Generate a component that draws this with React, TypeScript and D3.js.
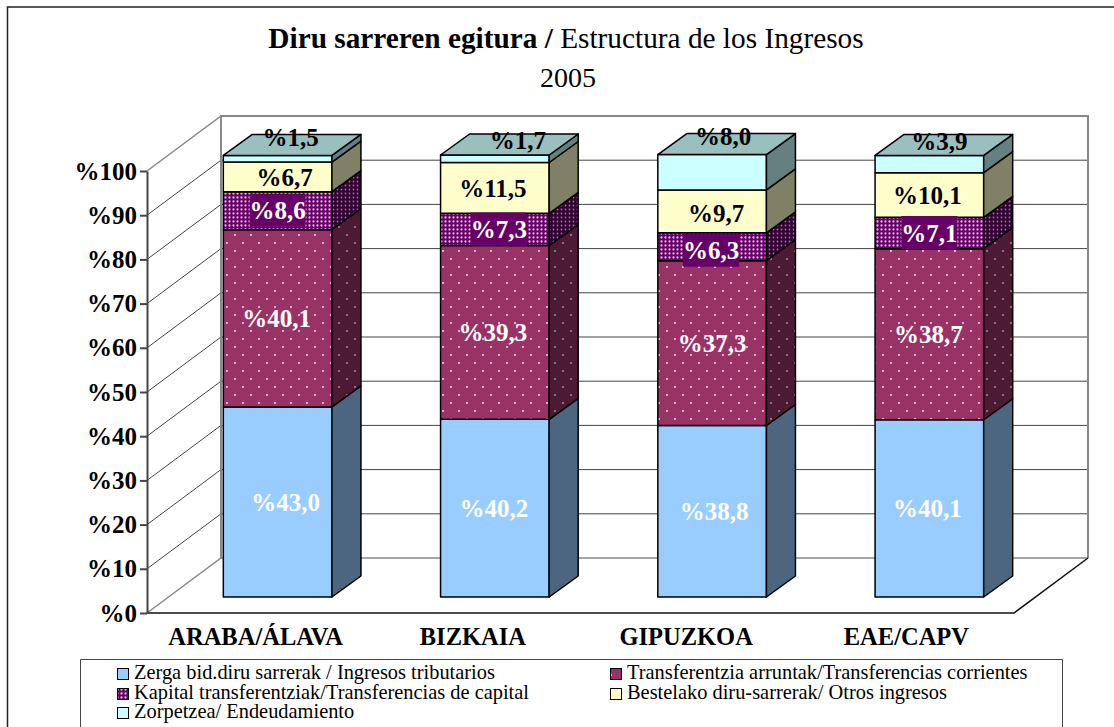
import * as d3 from 'd3';
import { useRef, useEffect } from 'react';

const categories = ['ARABA/ÁLAVA', 'BIZKAIA', 'GIPUZKOA', 'EAE/CAPV'];
const seriesNames = ['zerga', 'arrunt', 'kapital', 'bestelako', 'zorpetzea'];
const zerga = [43.0, 40.2, 38.8, 40.1];
const arrunt = [40.1, 39.3, 37.3, 38.7];
const kapital = [8.6, 7.3, 6.3, 7.1];
const bestelako = [6.7, 11.5, 9.7, 10.1];
const zorpetzea = [1.5, 1.7, 8.0, 3.9];
const seriesValues = [zerga, arrunt, kapital, bestelako, zorpetzea];
const yTicks = [0, 10, 20, 30, 40, 50, 60, 70, 80, 90, 100];
const legendLabels = [
  'Zerga bid.diru sarrerak / Ingresos tributarios',
  'Transferentzia arruntak/Transferencias corrientes',
  'Kapital transferentziak/Transferencias de capital',
  'Bestelako diru-sarrerak/ Otros ingresos',
  'Zorpetzea/ Endeudamiento',
];
// where the data labels sit, as placed by hand in the original [dx, dy] per series/category
const labelNudge = [
  [[8, 0], [-1, 0], [2, 0], [-2, 0]],
  [[-1, 0], [-2, 0], [0, 0], [-1, 0]],
  [[0, 0], [4, 0], [-1, 4], [0, 0]],
  [[7, 0], [-2, 0], [4, 2], [-2, 0]],
  [[13, -22], [23, -19], [11, -36], [10, -23]],
];
const categoryNudge = [0, 0, -4, -1];

const width = 1114;
const height = 727;
const serif = '"Liberation Serif", serif';

// front and side colours, top only for the last series
const faces = [
  { fill: '#99ccff', side: '#4d6680' },
  { fill: 'url(#dotsFront)', side: 'url(#dotsSide)' },
  { fill: 'url(#meshFront)', side: 'url(#meshSide)' },
  { fill: '#ffffcc', side: '#808066' },
  { fill: '#ccffff', side: '#668080', top: '#99bfbf' },
];

function App() {
  const svgRef = useRef<SVGSVGElement>(null);

  useEffect(() => {
    const svg = d3.select(svgRef.current);
    svg.selectAll('*').remove();

    // Patterns
    const defs = svg.append('defs');
    const addPattern = (id, size, bg, dot, pts, r) => {
      const p = defs.append('pattern').attr('id', id).attr('patternUnits', 'userSpaceOnUse')
        .attr('width', size).attr('height', size);
      p.append('rect').attr('width', size).attr('height', size).attr('fill', bg);
      pts.forEach(([cx, cy]) => p.append('circle').attr('cx', cx).attr('cy', cy).attr('r', r).attr('fill', dot));
    };
    addPattern('dotsFront', 16, '#993366', '#f0dce6', [[3, 3], [11, 11]], 1);
    addPattern('dotsSide', 16, '#4d1a33', '#a08c96', [[3, 3], [11, 11]], 1);
    addPattern('meshFront', 4, '#660066', '#e0b4e0', [[1.5, 1.5]], 1.15);
    addPattern('meshSide', 4, '#330033', '#a070a0', [[1.5, 1.5]], 0.9);

    // Outer frame
    svg.append('path').attr('d', 'M7.5,727V7H1114').attr('fill', 'none').attr('stroke', '#222').attr('stroke-width', 1.5);

    // Title
    const title = svg.append('text').attr('x', 566).attr('y', 48).attr('text-anchor', 'middle')
      .attr('font-family', serif).attr('font-size', 29.3);
    title.append('tspan').attr('font-weight', 'bold').text('Diru sarreren egitura / ');
    title.append('tspan').text('Estructura de los Ingresos');
    svg.append('text').attr('x', 568).attr('y', 87).attr('text-anchor', 'middle')
      .attr('font-family', serif).attr('font-size', 28).text('2005');

    // Scales
    const x = d3.scaleBand().domain(categories).range([147, 1016]).paddingInner(0.5).paddingOuter(0.25);
    const y = d3.scaleLinear().domain([0, 100]).range([613, 171]);
    const depthX = 74;
    const depthY = 55;
    const barDx = 22;
    const barDy = 16;
    const barX = 29;
    const barY = 21;

    // Walls
    const wall = svg.append('g').attr('fill', 'none');
    yTicks.forEach((t) => {
      const edge = t === 0 || t === 100;
      wall.append('path')
        .attr('d', `M147,${y(t)}L${147 + depthX},${y(t) - depthY}H${147 + depthX + 867}`)
        .attr('stroke', edge ? '#888' : '#444')
        .attr('stroke-width', edge ? 1.5 : 1);
    });
    wall.append('path')
      .attr('d', `M${147 + depthX},${y(0) - depthY}V${y(100) - depthY}H${147 + depthX + 867}V${y(0) - depthY}`)
      .attr('stroke', '#888').attr('stroke-width', 2);
    wall.append('path')
      .attr('d', `M147,${y(0)}H1014L${1014 + depthX},${y(0) - depthY}`)
      .attr('stroke', '#111').attr('stroke-width', 1.5);

    // Axes
    const yAxis = svg.append('g').attr('transform', 'translate(147,0)')
      .call(d3.axisLeft(y).tickValues(yTicks).tickSize(7).tickSizeOuter(0).tickFormat((d) => `%${d}`));
    yAxis.selectAll('path,line').attr('stroke', '#444').attr('stroke-width', 2);
    yAxis.selectAll('text').attr('font-family', serif).attr('font-size', 25).attr('font-weight', 'bold')
      .attr('fill', '#000').attr('x', -10);

    const xAxis = svg.append('g').attr('transform', 'translate(0,613)')
      .call(d3.axisBottom(x).tickSize(0));
    xAxis.select('path').remove();
    xAxis.selectAll('text').attr('font-family', serif).attr('font-size', 24.5).attr('font-weight', 'bold')
      .attr('fill', '#000').attr('y', 15).attr('x', (d, i) => categoryNudge[i]);

    // Stacked 3D bars
    const rows = categories.map((c, i) => {
      const row: any = { category: c };
      seriesNames.forEach((s, k) => { row[s] = seriesValues[k][i]; });
      return row;
    });
    const stacked = d3.stack().keys(seriesNames)(rows);
    const w = x.bandwidth();
    const bars = svg.append('g').attr('stroke', '#000').attr('stroke-width', 1.5).attr('stroke-linejoin', 'round');

    categories.forEach((c, i) => {
      const left = x(c) + barDx;
      const right = left + w;
      stacked.forEach((layer, k) => {
        const yb = y(layer[i][0]) - barDy;
        const yt = y(layer[i][1]) - barDy;
        bars.append('rect').attr('x', left).attr('y', yt).attr('width', w).attr('height', yb - yt)
          .attr('fill', faces[k].fill);
        bars.append('path')
          .attr('d', `M${right},${yb}L${right + barX},${yb - barY}V${yt - barY}L${right},${yt}Z`)
          .attr('fill', faces[k].side);
        if (k === stacked.length - 1) {
          bars.append('path')
            .attr('d', `M${left},${yt}L${left + barX},${yt - barY}H${right + barX}L${right},${yt}Z`)
            .attr('fill', faces[k].top);
        }
      });
    });

    // Data labels
    const labels = svg.append('g').attr('font-family', serif).attr('font-size', 25).attr('font-weight', 'bold')
      .attr('text-anchor', 'middle');
    const labelColors = ['#fff', '#fff', '#fff', '#000', '#000'];
    stacked.forEach((layer, k) => {
      categories.forEach((c, i) => {
        const cx = x(c) + barDx + w / 2 + labelNudge[k][i][0];
        const cy = y((layer[i][0] + layer[i][1]) / 2) - barDy + labelNudge[k][i][1];
        const text = `%${seriesValues[k][i].toFixed(1).replace('.', ',')}`;
        if (k === 2) {
          labels.append('rect').attr('x', cx - 28).attr('y', cy - 17).attr('width', 56).attr('height', 33)
            .attr('fill', '#660066');
        }
        labels.append('text').attr('x', cx).attr('y', cy).attr('dy', '0.35em')
          .attr('fill', labelColors[k]).text(text);
      });
    });

    // Legend
    svg.append('path').attr('d', 'M80.5,727V659.5H1062.5V727').attr('fill', '#fff').attr('stroke', '#444').attr('stroke-width', 1);
    const legendX = [117, 610];
    const legendY = [668, 688, 707];
    const legendFills = ['#99ccff', 'url(#dotsFront)', 'url(#meshFront)', '#ffffcc', '#ccffff'];
    legendLabels.forEach((label, i) => {
      const lx = legendX[i % 2];
      const ly = legendY[Math.floor(i / 2)];
      svg.append('rect').attr('x', lx + 0.5).attr('y', ly + 0.5).attr('width', 11).attr('height', 11)
        .attr('fill', legendFills[i]).attr('stroke', '#000').attr('stroke-width', 1);
      svg.append('text').attr('x', lx + 17).attr('y', ly + 11).attr('font-family', serif).attr('font-size', 20.4)
        .attr('fill', '#000').text(label);
    });
  }, []);

  return <svg ref={svgRef} width={width} height={height} style={{ position: 'absolute', left: 0, top: 0 }}></svg>;
}

export default App;
